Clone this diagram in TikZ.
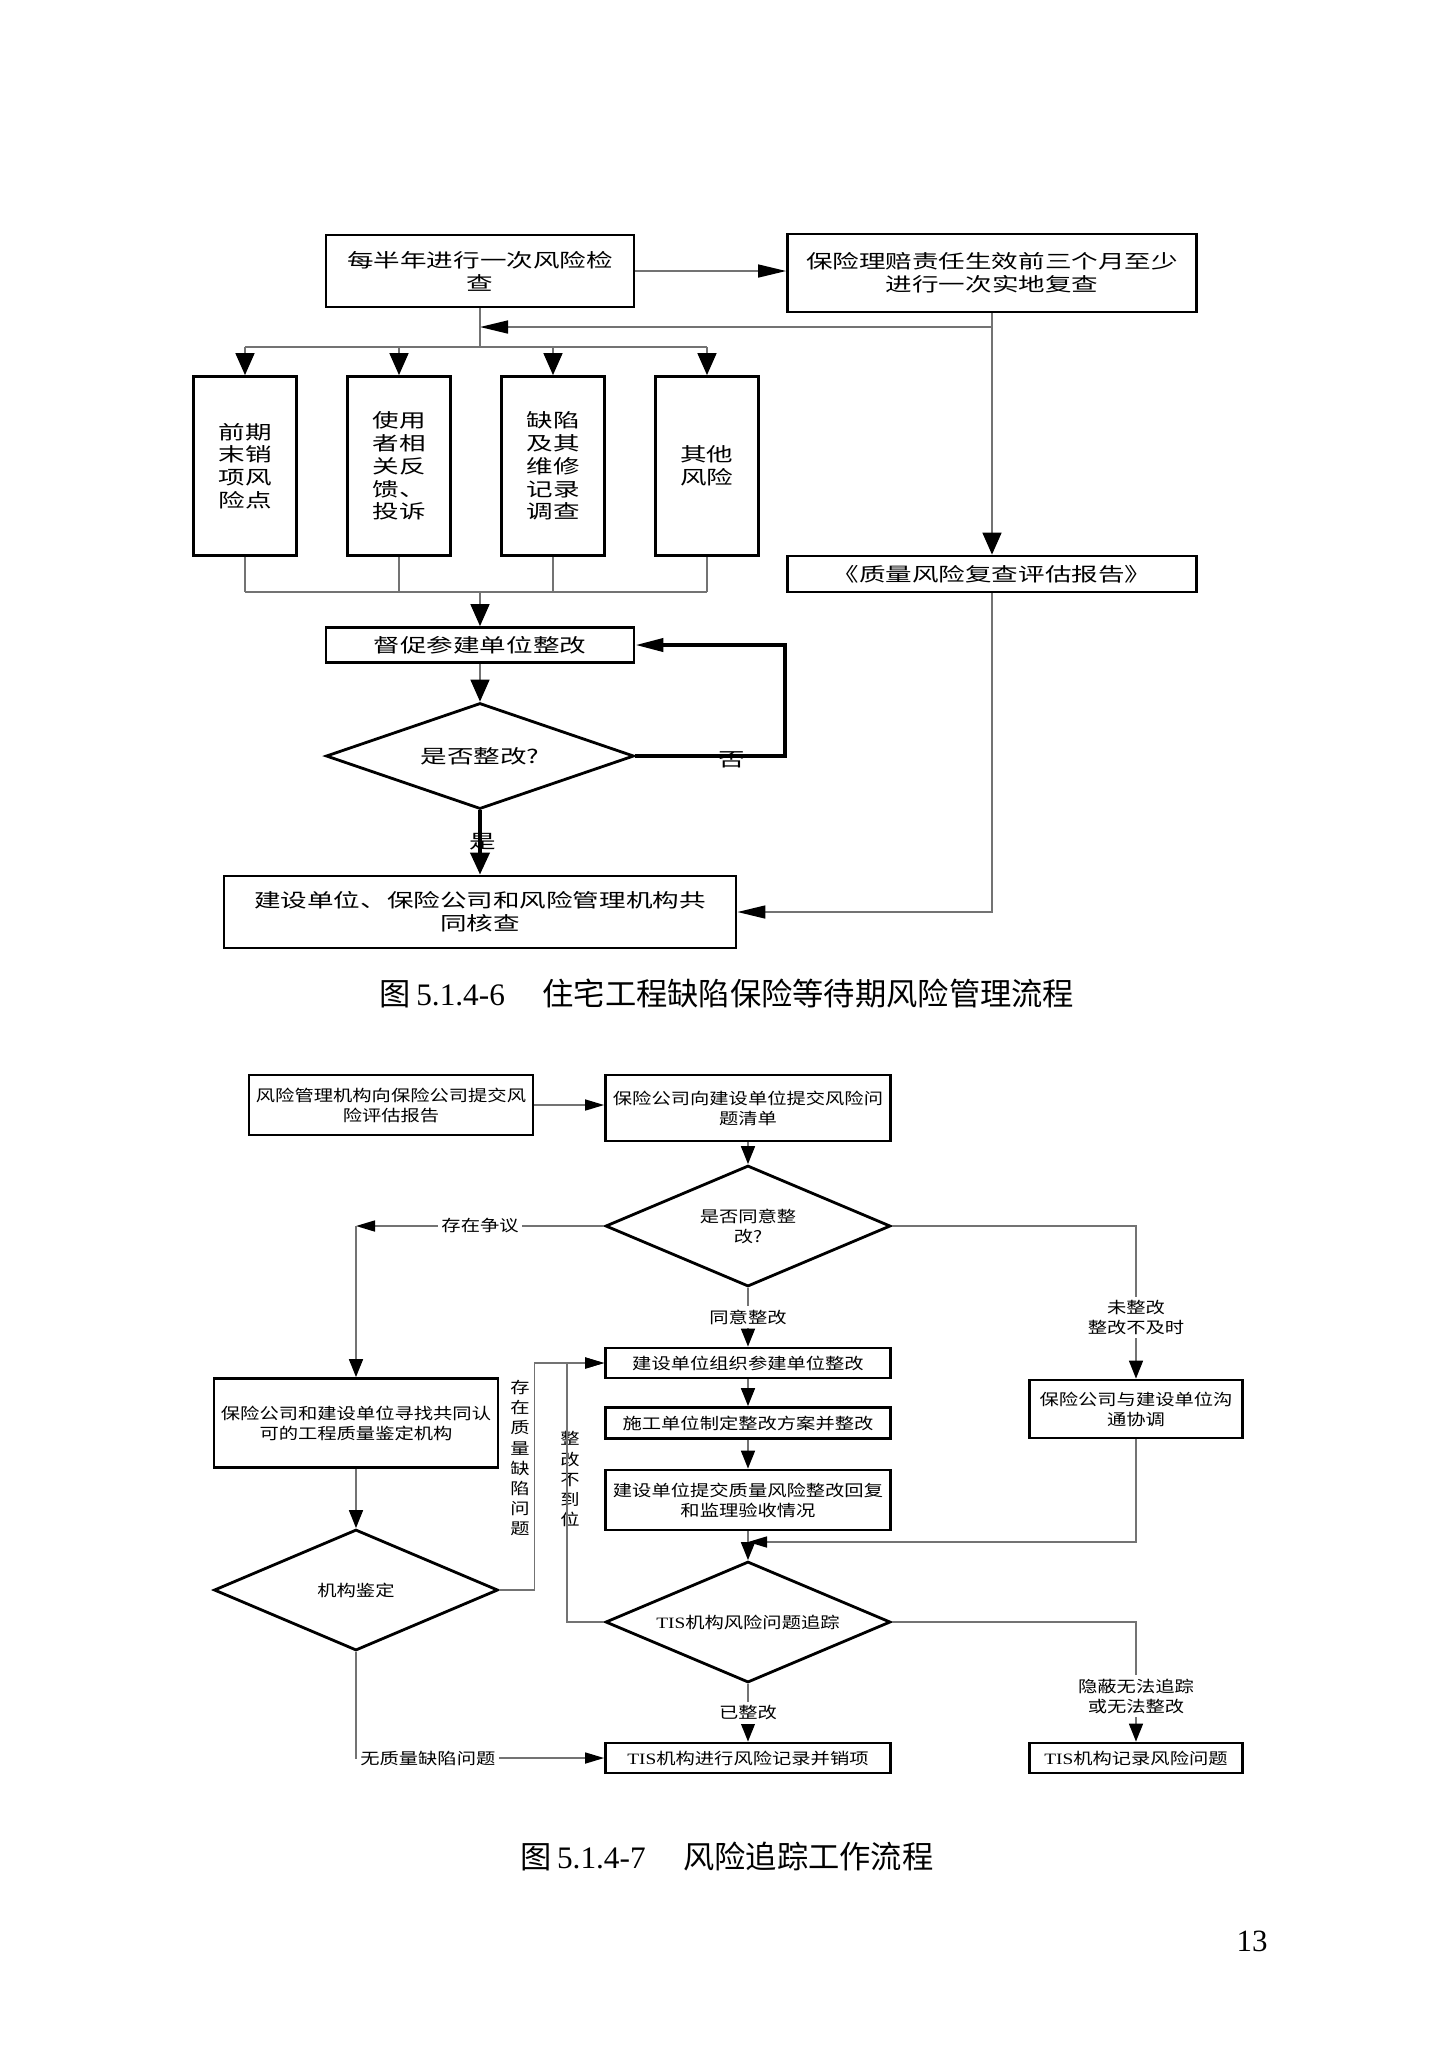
\documentclass[tikz,border=0pt]{standalone}
\usepackage{fontspec}
\setmainfont{Liberation Serif}
\newfontfamily\cjkbig{Noto Sans CJK SC}[FakeStretch=1.4]
\newfontfamily\cjksmall{Noto Sans CJK SC}[FakeStretch=1.22]
\newfontfamily\cjkcap{Noto Sans CJK SC}
\newfontfamily\serifsmall{Liberation Serif}[FakeStretch=1.22]
\usetikzlibrary{arrows.meta}
\usetikzlibrary{shapes.geometric}
\tikzset{%
  >={Triangle[width=1.6mm,length=2mm]},
  % Specifications for style of nodes:
            base1/.style = {rectangle, draw=black, line width=0.8pt,
                           inner sep=0pt, text centered, align=center},
            bigbox/.style = {base1, font=\cjkbig\fontsize{5.4pt}{6.5pt}\selectfont},
            tallbox/.style = {bigbox, minimum width=1.03cm, minimum height=1.79cm},
            bigdiamond/.style = {bigbox, diamond, aspect=2.9,
                           minimum width=3.08cm, minimum height=1.06cm},
            smallbox/.style = {base1, minimum width=2.85cm,
                           font=\cjksmall\fontsize{4.5pt}{5.7pt}\selectfont},
            sidebox/.style = {smallbox, minimum width=2.13cm},
            smalldiamond/.style = {smallbox, diamond, aspect=2.3, minimum height=1.21cm},
            tag/.style = {inner sep=1pt, font=\cjkbig\fontsize{5.4pt}{6.5pt}\selectfont},
            smalltag/.style = {fill=white, inner sep=1pt, align=center,
                           font=\cjksmall\fontsize{4.5pt}{5.7pt}\selectfont},
            caption/.style = {inner sep=0pt, font=\cjkcap\fontsize{8.9pt}{10pt}\selectfont},
  % connectors
            link/.style = {draw=black!55, line width=0.45pt},
            heavy/.style = {draw=black, line width=1.1pt},
            vbig/.style = {-{Triangle[width=1.9mm,length=2.2mm,color=black]}},
            hbig/.style = {-{Triangle[width=1.3mm,length=2.8mm,color=black]}},
            vsm/.style = {-{Triangle[width=1.4mm,length=1.8mm,color=black]}},
            hsm/.style = {-{Triangle[width=1.1mm,length=1.9mm,color=black]}}
}
\begin{document}
\begin{tikzpicture}[node distance=1.54cm]
  \useasboundingbox (0,0) rectangle (14.47,-20.48);
  % Specification of nodes (position, etc.)
  \node (halfyear)		[bigbox, minimum width=3.08cm, minimum height=0.72cm] at (4.80,-2.71) {每半年进行一次风险检\\查};
  \node (onsite)		[bigbox, minimum width=4.09cm, minimum height=0.78cm] at (9.92,-2.73) {保险理赔责任生效前三个月至少\\进行一次实地复查};
  \node (early)			[tallbox] at (2.45,-4.66) {前期\\末销\\项风\\险点};
  \node (feedback)		[tallbox, right of = early] {使用\\者相\\关反\\馈、\\投诉};
  \node (defect)		[tallbox, right of = feedback] {缺陷\\及其\\维修\\记录\\调查};
  \node (other)			[tallbox, right of = defect] {其他\\风险};
  \node (report)		[bigbox, minimum width=4.09cm, minimum height=0.36cm, below of = onsite, node distance=3.01cm] {《质量风险复查评估报告》};
  \node (urge)			[bigbox, minimum width=3.08cm, minimum height=0.35cm] at (4.80,-6.45) {督促参建单位整改};
  \node (done)			[bigdiamond, below of = urge, node distance=1.11cm] {是否整改?};
  \node (joint)			[bigbox, minimum width=5.12cm, minimum height=0.72cm, below of = done, node distance=1.56cm] {建设单位、保险公司和风险管理机构共\\同核查};
  \node (no)			[tag] at (7.32,-7.60) {否};
  \node (yes)			[tag] at (4.83,-8.42) {是};
  \node (cap1)			[caption] at (7.27,-9.93) {图\,{\rmfamily 5.1.4-6}\hspace{1.2em}住宅工程缺陷保险等待期风险管理流程};
  \coordinate (split) at (4.80,-3.27);
  \coordinate (fan) at (4.80,-3.47);
  \coordinate (gather) at (4.80,-5.92);
  \draw[link, hbig]		(halfyear.east) -- (halfyear.east -| onsite.west);
  \draw[link, vbig]		(onsite) -- (report);
  \draw[link, hbig]		(onsite.south |- split) -- (split);
  \draw[link]			(halfyear) -- (fan);
  \draw[link]			(early.north |- fan) -- (other.north |- fan);
  \foreach \n in {early,feedback,defect,other}
    \draw[link, vbig]	(\n.north |- fan) -- (\n);
  \foreach \n in {early,feedback,defect,other}
    \draw[link]			(\n) -- (\n.south |- gather);
  \draw[link]			(early.south |- gather) -- (other.south |- gather);
  \draw[link, vbig]		(gather) -- (urge);
  \draw[link, vbig]		(urge) -- (done);
  \draw[heavy, hbig]	(done.east) -- ++(1.50,0) |- (urge.east);
  \draw[heavy, vbig]	(done) -- (joint);
  \draw[link, hbig]		(report) |- (joint);

  % second flow chart
  \node (submit)		[smallbox, minimum width=2.84cm, minimum height=0.60cm] at (3.91,-11.05) {风险管理机构向保险公司提交风\\险评估报告};
  \node (issues)		[smallbox, minimum height=0.66cm] at (7.48,-11.08) {保险公司向建设单位提交风险问\\题清单};
  \node (agree)			[smalldiamond, below of = issues, node distance=1.18cm] {是否同意整\\改?};
  \node (rectify)		[smallbox, minimum height=0.30cm] at (7.48,-13.63) {建设单位组织参建单位整改};
  \node (scheme)		[smallbox, minimum height=0.31cm, below of = rectify, node distance=0.60cm] {施工单位制定整改方案并整改};
  \node (reply)			[smallbox, minimum height=0.60cm, below of = scheme, node distance=0.77cm] {建设单位提交质量风险整改回复\\和监理验收情况};
  \node (track)			[smalldiamond, below of = reply, node distance=1.22cm] {{\serifsmall TIS}机构风险问题追踪};
  \node (close)			[smallbox, minimum height=0.30cm, below of = track, node distance=1.36cm] {{\serifsmall TIS}机构进行风险记录并销项};
  \node (agency)		[smallbox, minimum width=2.84cm, minimum height=0.89cm] at (3.56,-14.23) {保险公司和建设单位寻找共同认\\可的工程质量鉴定机构};
  \node (appraise)		[smalldiamond, minimum width=2.84cm, below of = agency, node distance=1.67cm] {机构鉴定};
  \node (consult)		[sidebox, minimum height=0.58cm] at (11.36,-14.09) {保险公司与建设单位沟\\通协调};
  \node (record)		[sidebox, minimum height=0.30cm] at (11.36,-17.58) {{\serifsmall TIS}机构记录风险问题};
  \node (quality)		[smalltag] at (5.20,-14.58) {存\\在\\质\\量\\缺\\陷\\问\\题};
  \node (notdone)		[smalltag] at (5.70,-14.79) {整\\改\\不\\到\\位};
  \node (cap2)			[caption] at (7.27,-18.56) {图\,{\rmfamily 5.1.4-7}\hspace{1.2em}风险追踪工作流程};
  \node (pageno)		[font=\fontsize{8.8pt}{10pt}\selectfont] at (12.52,-19.41) {13};
  \coordinate (merge) at (7.48,-15.42);
  \draw[link, hsm]		(submit.east) -- (submit.east -| issues.west);
  \draw[link, vsm]		(issues) -- (agree);
  \draw[link, hsm]		(agree.west) -- node[smalltag] {存在争议} (agree.west -| agency.north);
  \draw[link, vsm]		(agree.west -| agency.north) -- (agency);
  \draw[link, vsm]		(agree) -- node[smalltag] {同意整改} (rectify);
  \draw[link, vsm]		(agree.east) -| node[smalltag, pos=0.8] {未整改\\整改不及时} (consult);
  \draw[link, vsm]		(rectify) -- (scheme);
  \draw[link, vsm]		(scheme) -- (reply);
  \draw[link, vsm]		(reply) -- (track);
  \draw[link, hsm]		(consult) |- (merge);
  \draw[link, vsm]		(agency) -- (appraise);
  \draw[link, hsm]		(appraise.east) -- ++(0.35,0) |- (rectify.west);
  \draw[link, hsm]		(track.west) -- ++(-0.37,0) |- (rectify.west);
  \draw[link, vsm]		(track) -- node[smalltag] {已整改} (close);
  \draw[link, hsm]		(appraise.south) |- node[smalltag, pos=0.5, anchor=west] {无质量缺陷问题} (close.west);
  \draw[link, vsm]		(track.east) -| node[smalltag, pos=0.81] {隐蔽无法追踪\\或无法整改} (record);
\end{tikzpicture}
\end{document}
